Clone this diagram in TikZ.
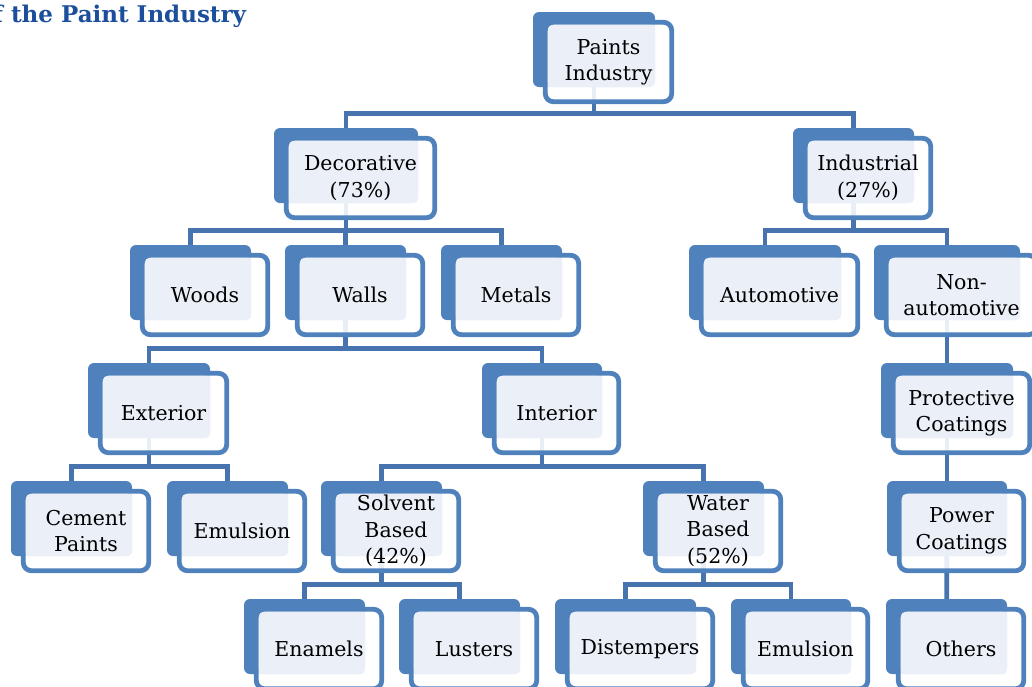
\documentclass[tikz,border=0pt]{standalone}
\usepackage{fontspec}
\setmainfont{DejaVu Serif}
\usetikzlibrary{calc}
\definecolor{bkblue}{HTML}{4F81BD}
\definecolor{connblue}{HTML}{4774AE}
\definecolor{ltfill}{HTML}{EAEFF8}
\definecolor{titleblue}{HTML}{1B4F9B}
\pgfdeclarelayer{bg}
\pgfsetlayers{bg,main}
\tikzset{
  bkbox/.style={rectangle, rounded corners=6, fill=bkblue, inner sep=0, minimum height=75},
  frbox/.style={draw=bkblue, line width=4.8, rounded corners=8, fill=white, fill opacity=0.88},
  ltbox/.style={fill=ltfill, rounded corners=5},
  txt/.style={align=center, inner sep=0, font=\fontsize{20.5}{26.5}\selectfont},
  conn/.style={draw=connblue, line width=4.8},
}
\newcommand\pbox[5]{%
  \node[bkbox, minimum width={#4-#2}] (#1) at ({(#2+#4)/2},{#3+37.5}) {};
  \path[frbox] ($(#1.north west)+(12.5,10.5)$) rectangle ($(#1.south east)+(16.5,14.5)$);
  \path[ltbox] ($(#1.north west)+(15,13)$) rectangle (#1.south east);
  \node[txt] (#1-t) at ($(#1.center)+(14.5,12.5)$) {#5};
}
\begin{document}
\begin{tikzpicture}[x=1pt,y=-1pt]
\useasboundingbox (0,0) rectangle (1032,686);
\node[anchor=base west, inner sep=0, text=titleblue, font=\fontsize{23}{27}\selectfont\bfseries] (title) at (-7,22) {f the Paint Industry};

\pbox{pi}{533}{12}{655}{Paints\\Industry}
\pbox{dec}{274}{128}{418}{Decorative\\(73\%)}
\pbox{ind}{793}{128}{914}{Industrial\\(27\%)}
\pbox{woods}{130}{245}{251}{Woods}
\pbox{walls}{285}{245}{406}{Walls}
\pbox{metals}{441}{245}{562}{Metals}
\pbox{auto}{689}{245}{841}{Automotive}
\pbox{nonauto}{874}{245}{1020}{Non-\\automotive}
\pbox{ext}{88}{363}{210}{Exterior}
\pbox{int}{482}{363}{602}{Interior}
\pbox{prot}{881}{363}{1013}{Protective\\Coatings}
\pbox{cem}{11}{481}{132}{Cement\\Paints}
\pbox{emu}{167}{481}{288}{Emulsion}
\pbox{sol}{321}{481}{442}{Solvent\\Based\\(42\%)}
\pbox{wat}{643}{481}{764}{Water\\Based\\(52\%)}
\pbox{pow}{887}{481}{1007}{Power\\Coatings}
\pbox{ena}{244}{599}{365}{Enamels}
\pbox{lus}{399}{599}{520}{Lusters}
\pbox{dis}{555}{599}{696}{Distempers}
\pbox{emu2}{731}{599}{851}{Emulsion}
\pbox{oth}{886}{599}{1007}{Others}

\coordinate (r2) at ($(dec.north)+(0,-14.5)$);
\coordinate (r3) at ($(woods.north)+(0,-14.5)$);
\coordinate (r4) at ($(ext.north)+(0,-14.5)$);
\coordinate (r5) at ($(cem.north)+(0,-14.5)$);
\coordinate (r6) at ($(ena.north)+(0,-14.5)$);

\begin{pgfonlayer}{bg}
\draw[conn] (pi.center) -- (pi.center |- r2);
\draw[conn] (dec.center) |- (ind.center |- r2) -- (ind.center);
\draw[conn] (dec.center) -- (dec.center |- r3);
\draw[conn] (woods.center) |- (metals.center |- r3) -- (metals.center);
\draw[conn] (walls.center) -- (walls.center |- r3);
\draw[conn] (ind.center) -- (ind.center |- r3);
\draw[conn] (auto.center) |- (nonauto.center |- r3) -- (nonauto.center);
\draw[conn] (walls.center) -- (walls.center |- r4);
\draw[conn] (ext.center) |- (int.center |- r4) -- (int.center);
\draw[conn] (nonauto.center) -- (prot.center);
\draw[conn] (ext.center) -- (ext.center |- r5);
\draw[conn] (cem.center) |- (emu.center |- r5) -- (emu.center);
\draw[conn] (int.center) -- (int.center |- r5);
\draw[conn] (sol.center) |- (wat.center |- r5) -- (wat.center);
\draw[conn] (prot.center) -- (pow.center);
\draw[conn] (sol.center) -- (sol.center |- r6);
\draw[conn] (ena.center) |- (lus.center |- r6) -- (lus.center);
\draw[conn] (wat.center) -- (wat.center |- r6);
\draw[conn] (dis.center) |- (emu2.center |- r6) -- (emu2.center);
\draw[conn] (pow.center) -- (oth.center);
\end{pgfonlayer}
\end{tikzpicture}
\end{document}
